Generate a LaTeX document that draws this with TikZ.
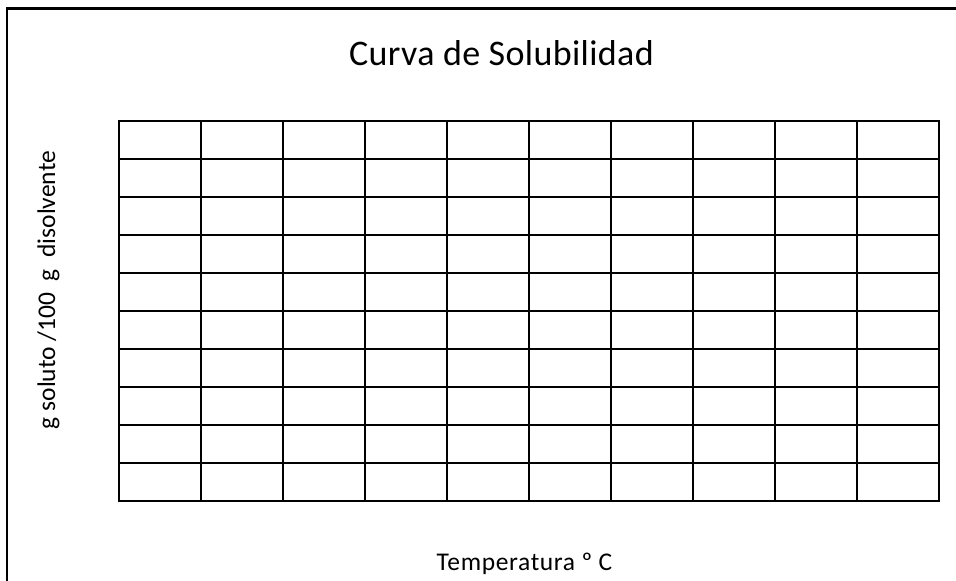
\documentclass[tikz,border=0pt]{standalone}
\usepackage{fontspec}
\setmainfont{Carlito}
\begin{document}
\begin{tikzpicture}[x=1pt,y=-1pt,
  gridline/.style={line width=2pt,line cap=rect},
  frameline/.style={line width=2.5pt},
  titletext/.style={font=\fontsize{36}{40}\selectfont\addfontfeatures{LetterSpace=1},inner sep=0pt,anchor=base},
  xtext/.style={font=\fontsize{25.5}{30}\selectfont\addfontfeatures{LetterSpace=2.5},inner sep=0pt,anchor=base},
  ytext/.style={font=\fontsize{25.5}{30}\selectfont,inner sep=0pt,anchor=base}]
\useasboundingbox (0,0) rectangle (956,581);
\fill[white] (0,0) rectangle (956,581);
\draw[frameline] (7,581) -- (7,8.5) -- (956,8.5);
\foreach \i in {0,...,10} {
  \draw[gridline] ({119+82*\i},120.5) -- ({119+82*\i},500.5);
  \draw[gridline] (119,{120.5+38*\i}) -- (939,{120.5+38*\i});
}
\node[titletext] (title) at (501.5,65) {Curva de Solubilidad};
\node[xtext] (xlab) at (524.5,570) {Temperatura º C};
\node[ytext,rotate=90] (ylab) at (55,290) {g soluto /100\ \ g\ \ disolvente};
\end{tikzpicture}
\end{document}
